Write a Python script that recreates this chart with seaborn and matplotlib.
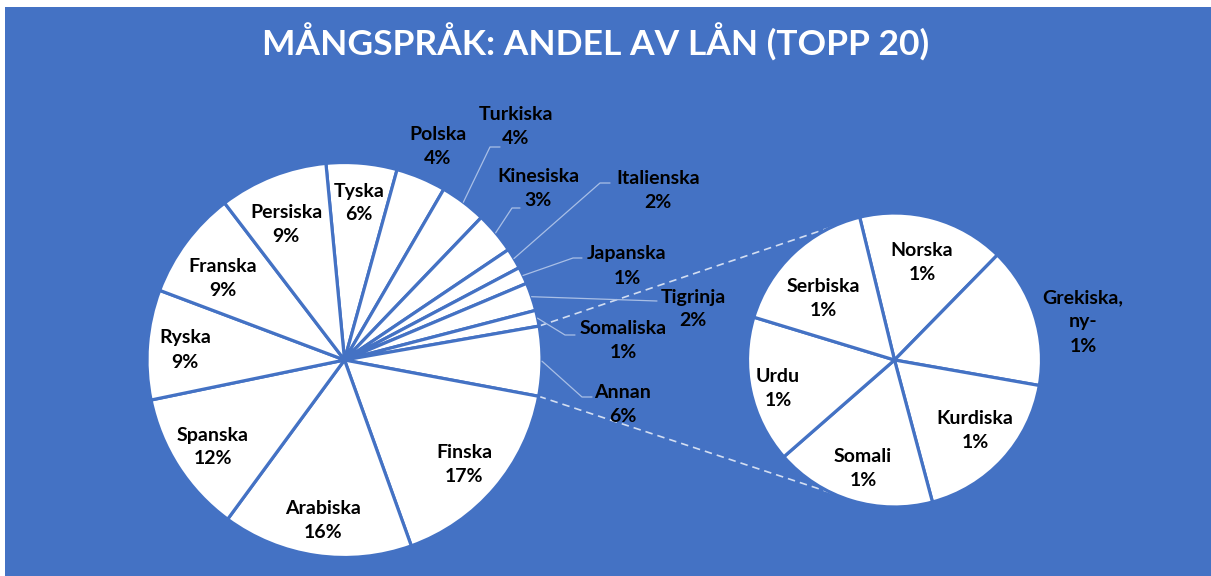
"""Pie-of-pie: share of loans per language (top 20)."""

import matplotlib

matplotlib.use("Agg")
import matplotlib.pyplot as plt
import seaborn as sns
from matplotlib.patches import Rectangle
import numpy as np

# Main pie, clockwise from 12 o'clock ("Annan" is split out in the small pie)
main_labels = ["Tyska", "Polska", "Turkiska", "Kinesiska", "Italienska", "Japanska",
               "Tigrinja", "Somaliska", "Annan", "Finska", "Arabiska", "Spanska",
               "Ryska", "Franska", "Persiska"]
main_shares = [5.8, 4.1, 3.8, 3.4, 1.7, 1.4, 2.3, 1.3, 5.7, 16.6, 15.6, 11.7, 9.0, 8.9, 8.9]

# Secondary pie (breakdown of "Annan"), clockwise from the top
other_labels = ["Norska", "Grekiska,\nny-", "Kurdiska", "Somali", "Urdu", "Serbiska"]
other_shares = [0.92, 0.88, 1.03, 1.01, 0.92, 0.94]

TITLE = "MÅNGSPRÅK: ANDEL AV LÅN (TOPP 20)"

W, H = 1211, 576
BLUE = "#4472C4"
LEADER = "#A9BFE6"
DASH = "#D3DEF2"


def px(x, y):
    """Pixel position (y down) -> data position (y up)."""
    return x, H - y


# label centres in pixels
main_pos = {
    "Tyska": (359, 203), "Polska": (438, 147), "Turkiska": (516, 127),
    "Kinesiska": (538, 188), "Italienska": (658, 191), "Japanska": (627, 266),
    "Tigrinja": (693, 309), "Somaliska": (623, 341), "Annan": (623, 405),
    "Finska": (464, 464), "Arabiska": (323, 521), "Spanska": (213, 447),
    "Ryska": (185, 350), "Franska": (223, 278), "Persiska": (286, 224),
}
other_pos = {
    "Norska": (922, 262), "Grekiska,\nny-": (1083, 322), "Kurdiska": (975, 431),
    "Somali": (863, 468), "Urdu": (778, 388), "Serbiska": (823, 299),
}
# leader line bends (pixels), from the wedge edge towards the label
leaders = {
    "Turkiska": [(490, 147), (500, 147)],
    "Kinesiska": [(512, 208), (520, 208)],
    "Italienska": [(600, 183), (610, 183)],
    "Japanska": [(573, 258), (582, 258)],
    "Tigrinja": [(657, 301)],
    "Somaliska": [(565, 335), (575, 335)],
    "Annan": [(582, 397), (592, 397)],
}

sns.set_style("white")
plt.rcParams["font.family"] = ["Lato", "DejaVu Sans"]

fig = plt.figure(figsize=(W / 100, H / 100), dpi=100)
fig.patch.set_facecolor("white")
ax = fig.add_axes([0, 0, 1, 1])

ax.add_patch(Rectangle((5, 0), W - 5, H - 7, facecolor=BLUE, edgecolor="none", zorder=0))

wedge_style = dict(facecolor="white", edgecolor=BLUE, linewidth=2.3)
main_wedges, _ = ax.pie(main_shares, startangle=95.4, counterclock=False,
                        center=px(344.5, 360), radius=197.5, wedgeprops=wedge_style)
other_wedges, _ = ax.pie(other_shares, startangle=103.7, counterclock=False,
                         center=px(894.5, 360), radius=147, wedgeprops=wedge_style)

txt = dict(ha="center", va="center", fontsize=14, fontweight="bold", color="black",
           linespacing=1.5, zorder=5)

for name, share in zip(main_labels, main_shares):
    ax.text(*px(*main_pos[name]), f"{name}\n{share:.0f}%", **txt)
for name, share in zip(other_labels, other_shares):
    ax.text(*px(*other_pos[name]), f"{name}\n{share:.0f}%", **txt)

# leader lines for the thin slices
for name, wedge in zip(main_labels, main_wedges):
    if name not in leaders:
        continue
    mid = np.deg2rad((wedge.theta1 + wedge.theta2) / 2)
    cx, cy = wedge.center
    xs = [cx + wedge.r * np.cos(mid)] + [px(*p)[0] for p in leaders[name]]
    ys = [cy + wedge.r * np.sin(mid)] + [px(*p)[1] for p in leaders[name]]
    ax.plot(xs, ys, color=LEADER, lw=0.9, zorder=3)

# dashed connectors between the "Annan" slice and the secondary pie
annan = main_wedges[main_labels.index("Annan")]
ocx, ocy = other_wedges[0].center
orad = other_wedges[0].r
for theta, target in [(annan.theta2, 115), (annan.theta1, -115)]:
    a, b = np.deg2rad(theta), np.deg2rad(target)
    x0 = annan.center[0] + annan.r * np.cos(a)
    y0 = annan.center[1] + annan.r * np.sin(a)
    x1, y1 = ocx + orad * np.cos(b), ocy + orad * np.sin(b)
    ax.plot([x0, x1], [y0, y1], color=DASH, lw=1.2, linestyle=(0, (4.5, 3)), zorder=0.5)

ax.text(*px(596, 42), TITLE, ha="center", va="center", fontsize=25.5,
        fontweight="bold", color="white")

ax.set_xlim(0, W)
ax.set_ylim(0, H)
ax.set_aspect("equal")
ax.axis("off")

fig.savefig("out.png", dpi=100, facecolor=fig.get_facecolor())
plt.close(fig)
